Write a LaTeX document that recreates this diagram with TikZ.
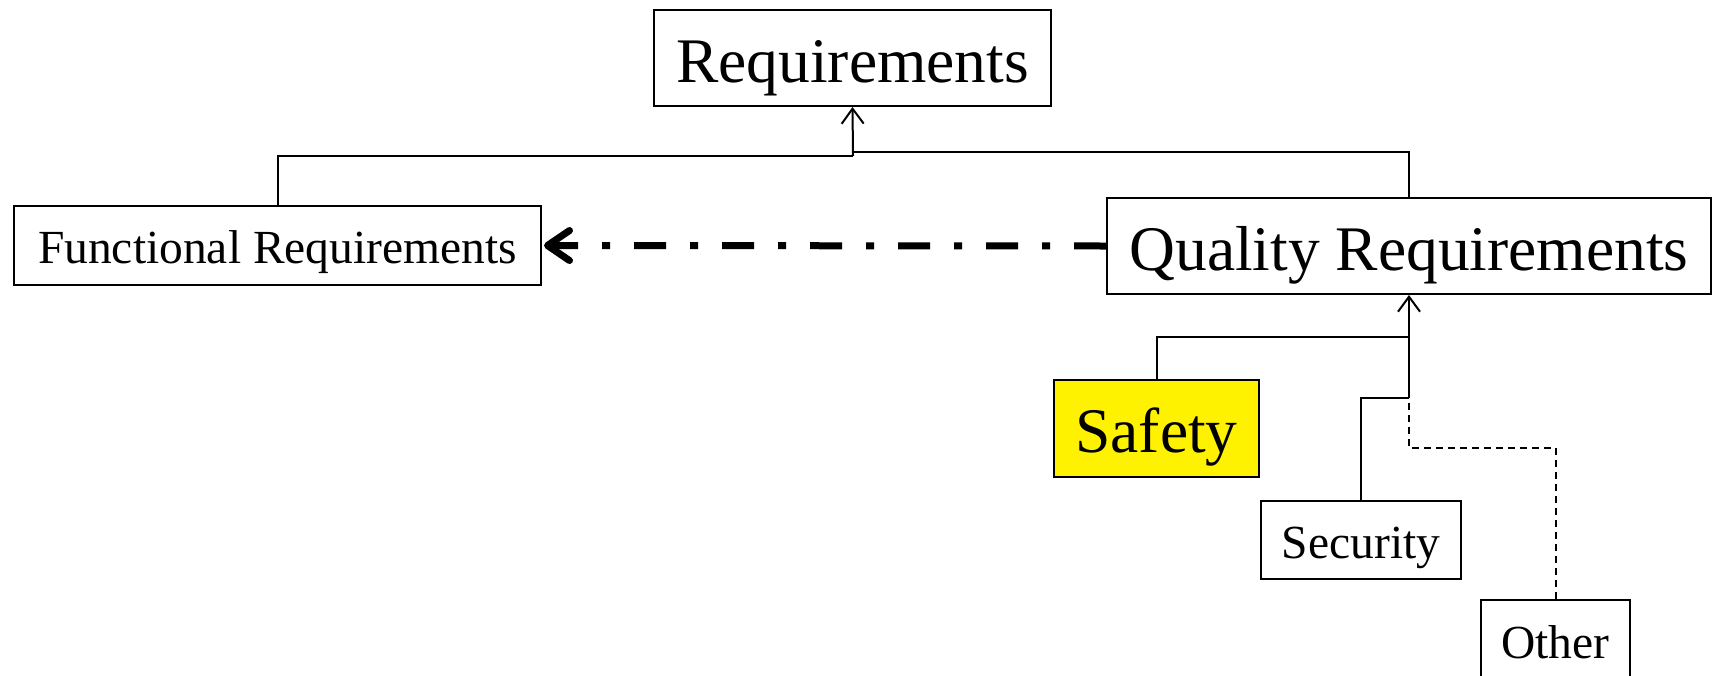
\documentclass[tikz,border=0pt]{standalone}
\usepackage{fontspec}
\setmainfont{Liberation Serif}
\usetikzlibrary{arrows.meta}
\begin{document}
\begin{tikzpicture}[x=1pt,y=-1pt,
  box/.style={draw=black, line width=2pt, rectangle, inner sep=0pt, anchor=center, fill=white},
  bigtext/.style={font=\fontsize{63.5}{70}\selectfont, text height=48pt, text depth=0pt},
  smalltext/.style={font=\fontsize{47.5}{55}\selectfont, text height=36pt, text depth=0pt},
  link/.style={line width=2pt},
  gen/.style={line width=2pt, -{Straight Barb[length=15pt,width=22pt,line width=2pt]}},
  dep/.style={line width=7pt, dash pattern=on 32pt off 24pt on 8pt off 24pt,
    -{Straight Barb[length=22pt,width=30pt,line width=7pt,round]}}
]
\useasboundingbox (0,0) rectangle (1713,675);

% class boxes
\node[box, bigtext, minimum width=397pt, minimum height=96pt] (req) at (852.5,58) {Requirements};
\node[box, smalltext, minimum width=527pt, minimum height=79pt] (fr) at (277.5,245.5) {Functional Requirements};
\node[box, bigtext, minimum width=604pt, minimum height=96pt] (qr) at (1409,246) {Quality Requirements};
\node[box, bigtext, fill=yellow, minimum width=205pt, minimum height=97pt] (sf) at (1156.5,428.5) {Safety};
\node[box, smalltext, minimum width=200pt, minimum height=78pt] (sec) at (1361,540) {Security};
\node[box, smalltext, minimum width=149pt, minimum height=80pt] (ot) at (1555.5,640) {Other};

% generalisation into Requirements
\coordinate (jl) at (853,156);
\coordinate (jr) at (853,152);
\draw[link] (fr.north) |- (jl);
\draw[link] (qr.north) |- (jr);
\draw[gen] (jl) -- (req.south);

% generalisation into Quality Requirements
\coordinate (jsf) at (1409,337);
\coordinate (jsec) at (1409,398);
\coordinate (jot) at (1409,448);
\draw[link] (sf.north) |- (jsf);
\draw[link] (sec.north) |- (jsec);
\draw[link, dash pattern=on 7pt off 5pt] (ot.north) |- (jot) -- (jsec);
\draw[gen] (jsec) -- (qr.south);

% dependency
\draw[dep] (qr.west) -- ([xshift=2pt]fr.east);
\end{tikzpicture}
\end{document}
